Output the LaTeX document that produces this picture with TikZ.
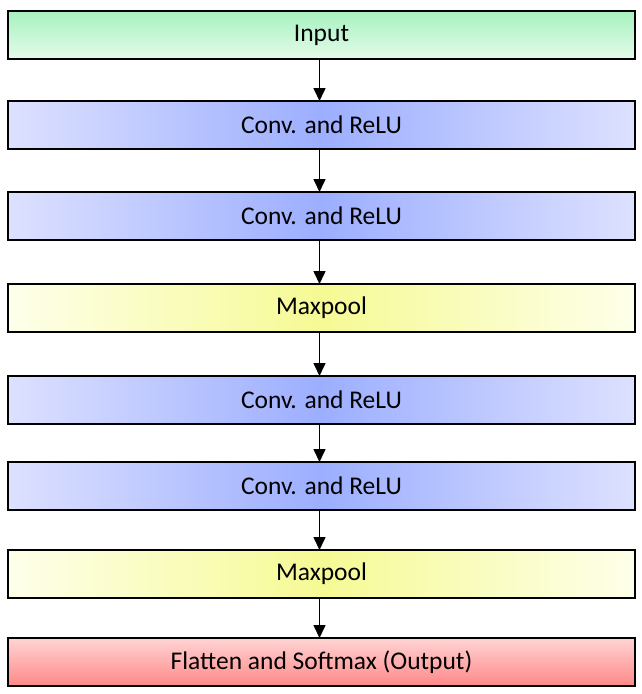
\documentclass[tikz,border=0pt]{standalone}
\usepackage{fontspec}
\setmainfont{Carlito}
\usetikzlibrary{positioning,arrows.meta}

\definecolor{inputtop}{HTML}{A6F2BE}
\definecolor{inputbot}{HTML}{E4FBEA}
\definecolor{convedge}{HTML}{DDE1FF}
\definecolor{convmid}{HTML}{9CAEFF}
\definecolor{pooledge}{HTML}{FEFFEA}
\definecolor{poolmid}{HTML}{F6FA94}
\definecolor{outtop}{HTML}{FFD4D4}
\definecolor{outbot}{HTML}{FF8888}

\begin{document}
\begin{tikzpicture}[x=1pt,y=1pt]
   \tikzstyle{every node}=[draw, line width=2pt, outer sep=0pt, inner sep=0pt, minimum width=627pt, minimum height=48pt, font=\fontsize{25.5}{30}\selectfont]
   \tikzstyle{inputbox}=[top color=inputtop, bottom color=inputbot]
   \tikzstyle{convbox}=[left color=convedge, right color=convedge, middle color=convmid]
   \tikzstyle{poolbox}=[left color=pooledge, right color=pooledge, middle color=poolmid]
   \tikzstyle{outbox}=[top color=outtop, bottom color=outbot]
   \tikzstyle{flow}=[line width=1.6pt, -{Triangle[length=13pt,width=12pt]}]

\useasboundingbox (0,0) rectangle (642,-694);

\node[inputbox] (input) at (321.5,-35) {Input};
\node[convbox, below=42pt of input] (conv1) {Conv. and ReLU};
\node[convbox, below=43pt of conv1] (conv2) {Conv. and ReLU};
\node[poolbox, below=44pt of conv2] (pool1) {Maxpool};
\node[convbox, below=44pt of pool1] (conv3) {Conv. and ReLU};
\node[convbox, below=38pt of conv3] (conv4) {Conv. and ReLU};
\node[poolbox, below=40pt of conv4] (pool2) {Maxpool};
\node[outbox, below=40pt of pool2] (output) {Flatten and Softmax (Output)};

\foreach \a/\b in {input/conv1, conv1/conv2, conv2/pool1, pool1/conv3, conv3/conv4, conv4/pool2, pool2/output}
   \draw[flow] ([xshift=-2pt]\a.south) -- ([xshift=-2pt]\b.north);

\end{tikzpicture}
\end{document}
